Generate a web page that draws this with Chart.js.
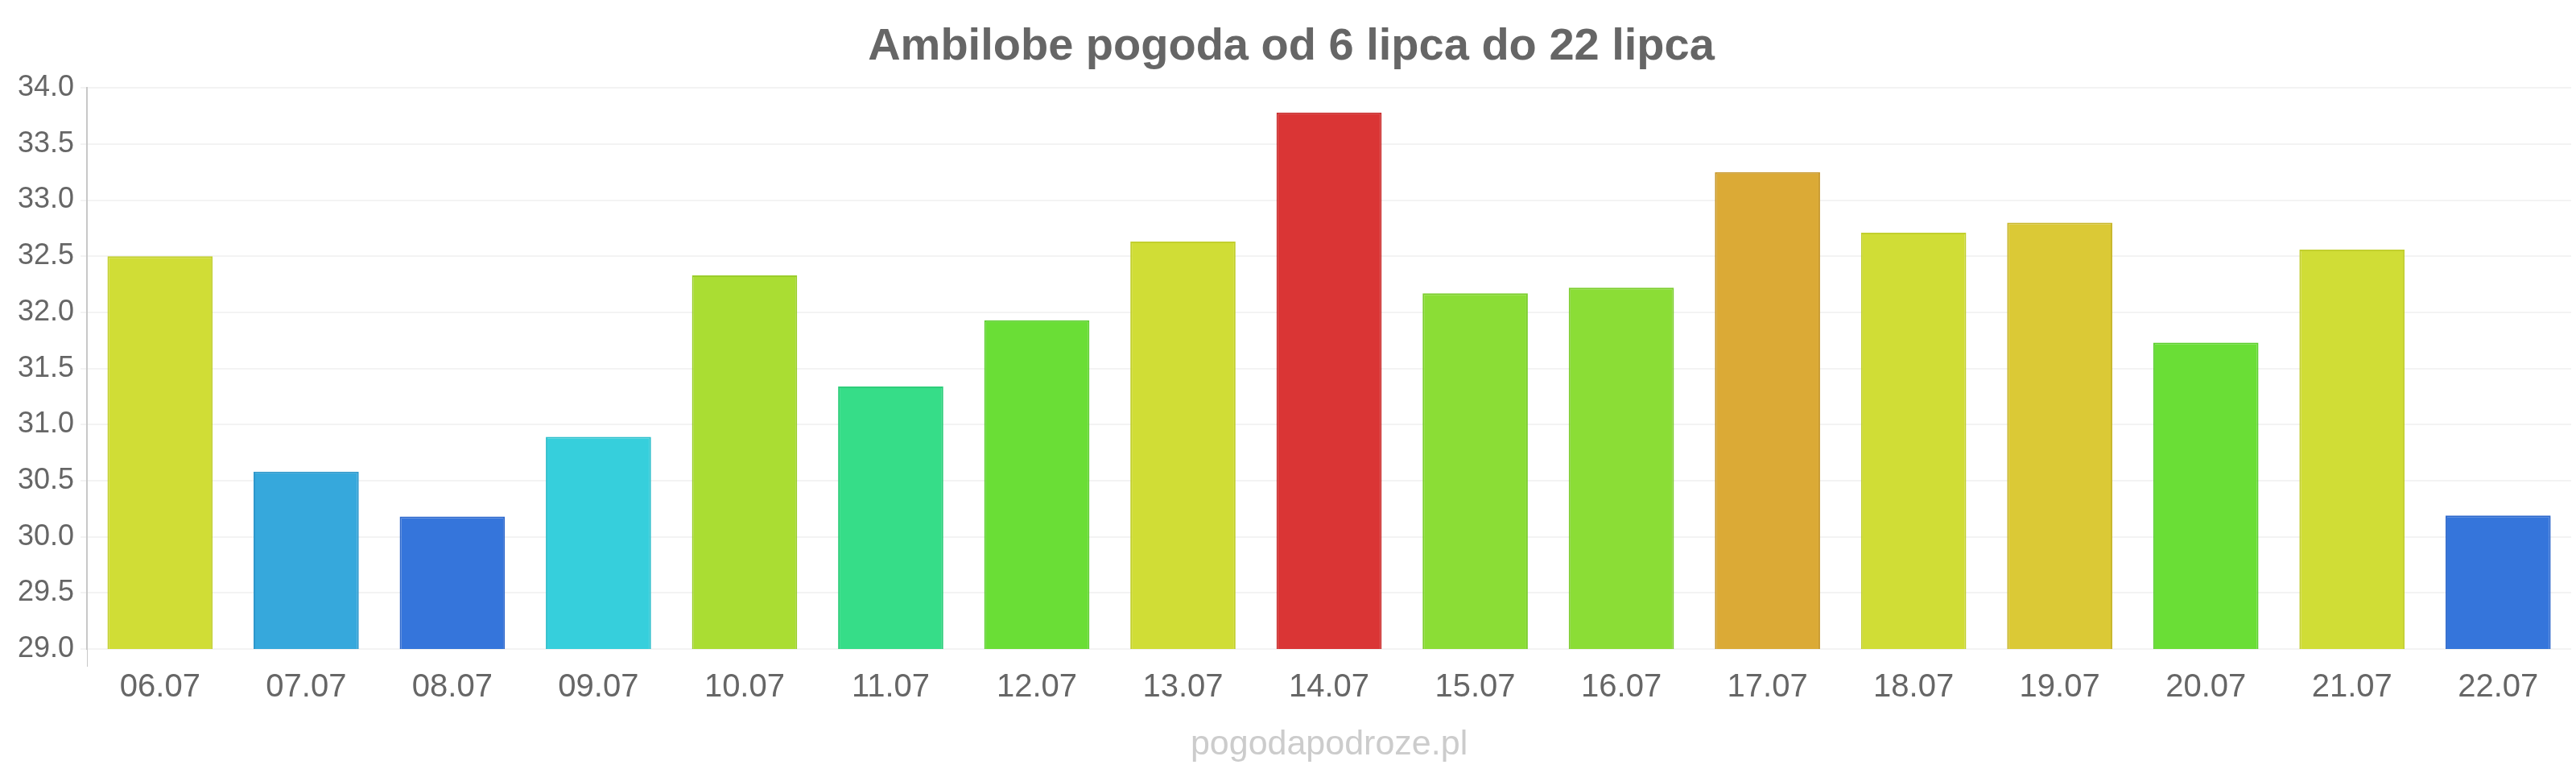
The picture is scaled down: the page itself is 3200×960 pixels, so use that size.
<!DOCTYPE html>
<html>
<head>
<meta charset="utf-8">
<script src="https://cdn.jsdelivr.net/npm/chart.js@4/dist/chart.umd.min.js"></script>
<style>
  html, body { margin: 0; padding: 0; background: #ffffff; }
  #wrap { width: 3200px; height: 960px; position: relative; }
</style>
</head>
<body>
<div id="wrap"><canvas id="c" width="3200" height="960"></canvas></div>
<script>
const titleText = "Ambilobe pogoda od 6 lipca do 22 lipca";
const footerText = "pogodapodroze.pl";
const categories = ["06.07","07.07","08.07","09.07","10.07","11.07","12.07","13.07","14.07","15.07","16.07","17.07","18.07","19.07","20.07","21.07","22.07"];
const temperatures = [32.5, 30.58, 30.18, 30.89, 32.33, 31.34, 31.93, 32.63, 33.78, 32.17, 32.22, 33.25, 32.71, 32.8, 31.73, 32.56, 30.19];
const barColors = ["#d0dd36","#36a8dc","#3575db","#36cfdc","#aadd33","#36dd88","#6ade36","#d0dd36","#da3535","#8bdd36","#8bdd36","#dbaa36","#d0dd36","#dbc936","#6ade36","#d0dd36","#3575db"];
const borderColors = ["#c2cf2e","#2e98cc","#2d68cc","#2ec0cc","#9acd2b","#2ecd7a","#5ccf2e","#c2cf2e","#c92c2c","#7ccd2e","#7ccd2e","#c99a2e","#c2cf2e","#c9b82e","#5ccf2e","#c2cf2e","#2d68cc"];
const yMin = 29.0, yMax = 34.0, yStep = 0.5;

Chart.defaults.font.family = "'Liberation Sans', Arial, sans-serif";
Chart.defaults.color = "#666666";

const footerPlugin = {
  id: "footerText",
  afterDraw(chart) {
    const ctx = chart.ctx;
    const a = chart.chartArea;
    ctx.save();
    ctx.font = "43px 'Liberation Sans', Arial, sans-serif";
    ctx.fillStyle = "#cccccc";
    ctx.textAlign = "center";
    ctx.textBaseline = "middle";
    ctx.fillText(footerText, (a.left + a.right) / 2, 925);
    ctx.restore();
  }
};

new Chart(document.getElementById("c"), {
  type: "bar",
  data: {
    labels: categories,
    datasets: [{
      data: temperatures,
      backgroundColor: barColors,
      borderColor: borderColors,
      borderWidth: 2,
      barPercentage: 0.72,
      categoryPercentage: 1.0
    }]
  },
  plugins: [footerPlugin],
  options: {
    responsive: false,
    animation: false,
    devicePixelRatio: 1,
    layout: { padding: { left: 14, right: 6, top: 0, bottom: 80 } },
    plugins: {
      legend: { display: false },
      tooltip: { enabled: false },
      title: {
        display: true,
        text: titleText,
        color: "#666666",
        font: { size: 56, weight: "bold" },
        padding: { top: 25, bottom: 17 }
      }
    },
    scales: {
      x: {
        grid: {
          display: true,
          drawOnChartArea: false,
          drawTicks: true,
          tickLength: 22,
          color: (ctx) => ctx.index === 0 ? "#c8c8c8" : "rgba(0,0,0,0)"
        },
        border: { display: false },
        ticks: { font: { size: 40 }, color: "#666666", padding: 2 }
      },
      y: {
        min: yMin,
        max: yMax,
        grid: { color: "#f3f3f3", lineWidth: 2, tickLength: 8 },
        border: { display: true, color: "#c8c8c8", width: 2 },
        ticks: {
          stepSize: yStep,
          font: { size: 36 },
          color: "#666666",
          padding: 8,
          callback: (v) => Number(v).toFixed(1)
        }
      }
    }
  }
});
</script>
</body>
</html>
